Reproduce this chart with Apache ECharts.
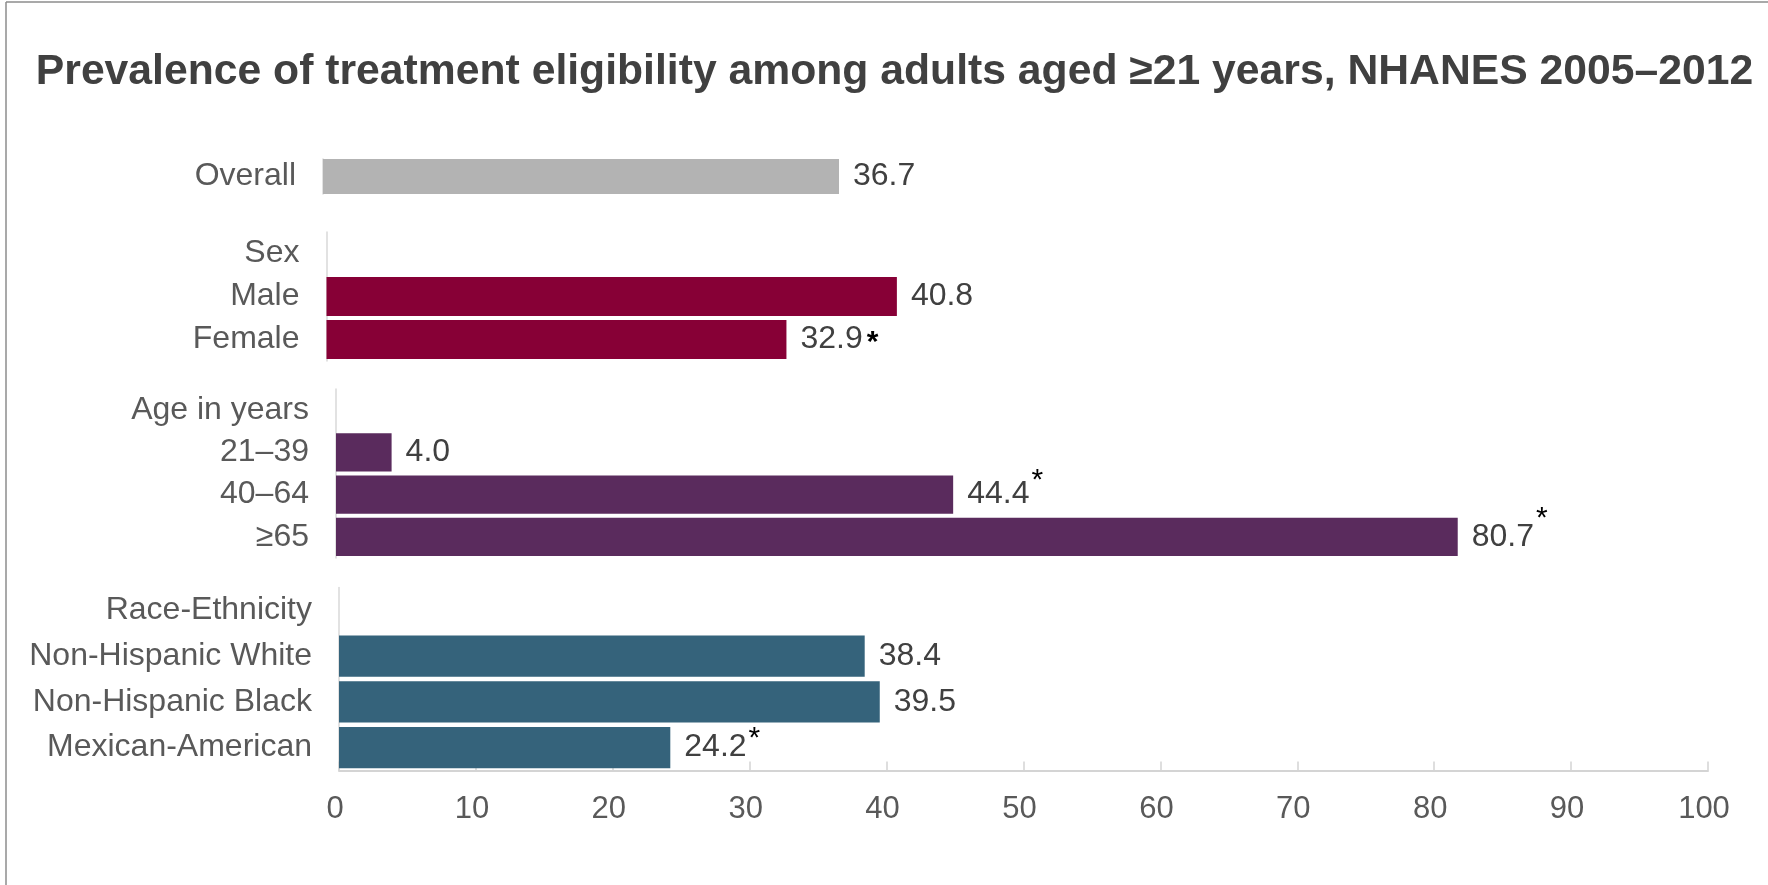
<!doctype html>
<html lang="en">

<head>
    <meta charset="UTF-8" />
    <title>Treatment eligibility</title>
    <script src="https://cdn.jsdelivr.net/npm/echarts@6/dist/echarts.min.js"></script>
    <style>
        html, body { margin: 0; padding: 0; background: #fff; }
        #main { width: 1768px; height: 885px; }
    </style>
</head>

<body>
    <div id="main"></div>
    <script type="text/javascript">
        // data
        var overallCats = ['Overall'];
        var overallVals = [36.7];
        var overallSig = [false];

        var sexCats = ['Sex', 'Male', 'Female'];
        var sexVals = ['-', 40.8, 32.9];
        var sexSig = [false, false, true];

        var ageCats = ['Age in years', '21–39', '40–64', '≥65'];
        var ageVals = ['-', 4.0, 44.4, 80.7];
        var ageSig = [false, false, true, true];

        var raceCats = ['Race-Ethnicity', 'Non-Hispanic White', 'Non-Hispanic Black', 'Mexican-American'];
        var raceVals = ['-', 38.4, 39.5, 24.2];
        var raceSig = [false, false, false, true];

        var xTicks = [0, 10, 20, 30, 40, 50, 60, 70, 80, 90, 100];

        var FONT = '"Liberation Sans", Arial, sans-serif';

        // which rich style the asterisk uses (inline or raised)
        var starStyle = { 'Female': 'st', '40–64': 'sup1', '≥65': 'sup2', 'Mexican-American': 'sup0' };

        var chart = echarts.init(document.getElementById('main'));

        function makeLabel(cats, sig) {
            return {
                show: true,
                position: 'right',
                distance: 14,
                formatter: function (p) {
                    var s = '{v|' + p.value.toFixed(1) + '}';
                    if (sig[p.dataIndex]) s += '{' + starStyle[cats[p.dataIndex]] + '|*}';
                    return s;
                },
                rich: {
                    v: { fontSize: 32, color: '#404040', fontFamily: FONT },
                    st: { fontSize: 30, fontWeight: 'bold', color: '#000', fontFamily: FONT, padding: [6, 0, 0, 4] },
                    sup0: { fontSize: 30, color: '#000', fontFamily: FONT, padding: [0, 0, 18, 2] },
                    sup1: { fontSize: 30, color: '#000', fontFamily: FONT, padding: [0, 0, 28, 2] },
                    sup2: { fontSize: 30, color: '#000', fontFamily: FONT, padding: [0, 0, 36, 2] }
                }
            };
        }

        var panels = [
            { cats: overallCats, vals: overallVals, sig: overallSig, color: '#b3b3b3', left: 323, right: 39, top: 159, height: 35, gap: '0%' },
            { cats: sexCats, vals: sexVals, sig: sexSig, color: '#870036', left: 326.5, right: 43.5, top: 232, height: 129, gap: '9%' },
            { cats: ageCats, vals: ageVals, sig: ageSig, color: '#5a2b5d', left: 336, right: 42, top: 389, height: 169, gap: '10%' },
            { cats: raceCats, vals: raceVals, sig: raceSig, color: '#35637b', left: 339, right: 60, top: 587.5, height: 183, gap: '10%' }
        ];

        var grids = [], xAxes = [], yAxes = [], series = [];
        panels.forEach(function (pn, i) {
            var last = i === panels.length - 1;
            grids.push({ left: pn.left, right: pn.right, top: pn.top, height: pn.height });
            xAxes.push({
                gridIndex: i,
                type: 'value',
                min: xTicks[0],
                max: xTicks[xTicks.length - 1],
                interval: 10,
                show: last,
                splitLine: { show: false },
                axisLine: { show: true, lineStyle: { color: '#d4d4d4', width: 2 } },
                axisTick: { show: true, inside: true, length: 9, lineStyle: { color: '#d4d4d4', width: 1.5 } },
                axisLabel: { fontSize: 31, color: '#595959', fontFamily: FONT, margin: 23, padding: [0, 8, 0, 0] }
            });
            yAxes.push({
                gridIndex: i,
                type: 'category',
                data: pn.cats,
                inverse: true,
                axisLine: { show: true, lineStyle: { color: '#d9d9d9', width: 1.5 } },
                axisTick: { show: false },
                axisLabel: { fontSize: 32, color: '#595959', fontFamily: FONT, margin: 27 }
            });
            series.push({
                type: 'bar',
                xAxisIndex: i,
                yAxisIndex: i,
                data: pn.vals,
                barCategoryGap: pn.gap,
                itemStyle: { color: pn.color },
                label: makeLabel(pn.cats, pn.sig),
                silent: true
            });
        });

        var option = {
            animation: false,
            grid: grids,
            xAxis: xAxes,
            yAxis: yAxes,
            series: series,
            graphic: [
                {
                    type: 'line',
                    shape: { x1: 6, y1: 2, x2: 1768, y2: 2 },
                    style: { stroke: '#8c8c8c', lineWidth: 1.5 }
                },
                {
                    type: 'line',
                    shape: { x1: 6, y1: 2, x2: 6, y2: 885 },
                    style: { stroke: '#8c8c8c', lineWidth: 1.5 }
                },
                {
                    type: 'text',
                    x: 894.5,
                    y: 72,
                    style: {
                        text: 'Prevalence of treatment eligibility among adults aged ≥21 years, NHANES 2005–2012',
                        font: 'bold 42.7px ' + FONT,
                        fill: '#404040',
                        textAlign: 'center',
                        textVerticalAlign: 'middle'
                    }
                }
            ]
        };

        chart.setOption(option);
    </script>
</body>

</html>
